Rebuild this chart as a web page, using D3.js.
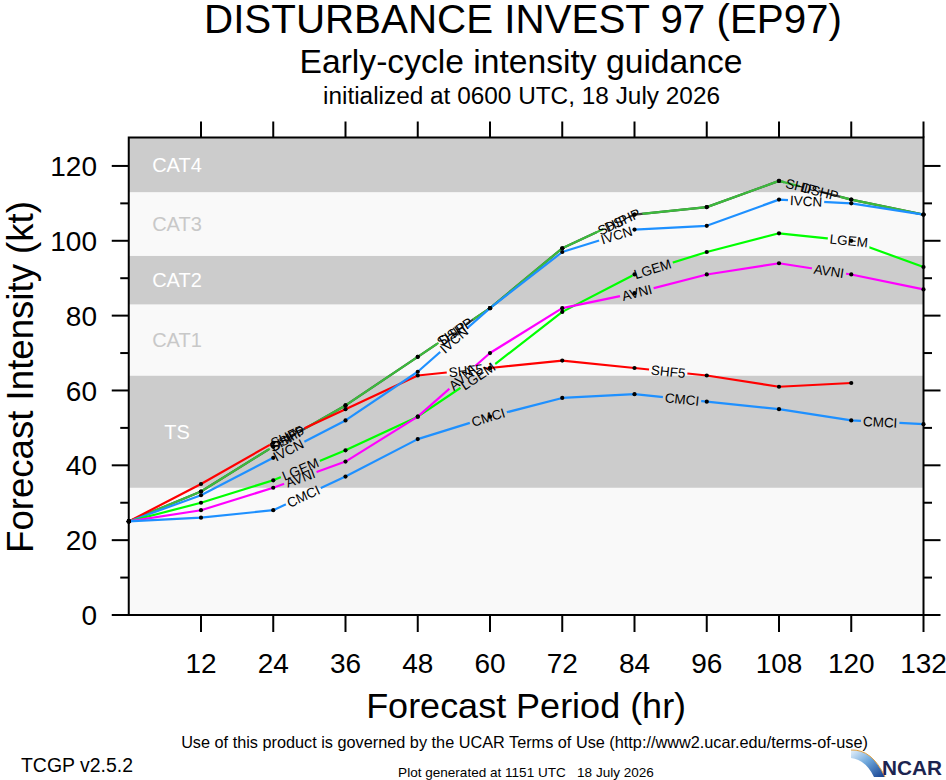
<!DOCTYPE html>
<html>
<head>
<meta charset="utf-8">
<script src="https://cdn.jsdelivr.net/npm/d3@7/dist/d3.min.js"></script>
<style>
  html, body { margin: 0; padding: 0; background: #ffffff; }
  svg { display: block; font-family: "Liberation Sans", Arial, Helvetica, sans-serif; }
</style>
</head>
<body>
<svg id="chart" width="946" height="780"></svg>
<script>
// ---------------- data ----------------
const hours = [0, 12, 24, 36, 48, 60, 72, 84, 96, 108, 120, 132];
const xTicks = [12, 24, 36, 48, 60, 72, 84, 96, 108, 120, 132];
const yTicks = [0, 20, 40, 60, 80, 100, 120];
const yMinorTicks = [10, 30, 50, 70, 90, 110];

const SHIP = [25, 33, 45, 56, 69, 82, 98, 107, 109, 116, 111, 107];
const DSHP = [25, 33, 45, 56, 69, 82, 98, 107, 109, 116, 111, 107];
const SHF5 = [25, 35, 46, 55, 64, 66, 68, 66, 64, 61, 62, null];
const IVCN = [25, 32, 42, 52, 65, 82, 97, 103, 104, 111, 110, 107];
const LGEM = [25, 30, 36, 44, 53, 66, 81, 91, 97, 102, 100, 93];
const AVNI = [25, 28, 34, 41, 53, 70, 82, 86, 91, 94, 91, 87];
const CMCI = [25, 26, 28, 37, 47, 53, 58, 59, 57, 55, 52, 51];

// hours along each line where its name is written
const labelHours = {
  SHIP: [25.8, 53.6, 80.4, 111.7],
  DSHP: [26.4, 54.3, 82.0, 114.8],
  SHF5: [26.3, 56.0, 89.6],
  IVCN: [26.5, 54.0, 81.0, 112.5],
  LGEM: [28.5, 58.0, 87.0, 119.6],
  AVNI: [28.5, 55.4, 84.4, 116.3],
  CMCI: [29.0, 59.7, 91.9, 124.8]
};

// intensity categories (kt)
const bandNames = ["", "TS", "CAT1", "CAT2", "CAT3", "CAT4"];
const bandLows  = [0, 34, 64, 83, 96, 113];
const bandHighs = [34, 64, 83, 96, 113, 127.6];

const series = [
  { name: "SHIP", values: SHIP, color: "#404040" },
  { name: "DSHP", values: DSHP, color: "#3cba3c" },
  { name: "SHF5", values: SHF5, color: "#ff0000" },
  { name: "IVCN", values: IVCN, color: "#1e90ff" },
  { name: "LGEM", values: LGEM, color: "#00ff00" },
  { name: "AVNI", values: AVNI, color: "#ff00ff" },
  { name: "CMCI", values: CMCI, color: "#1e90ff" }
];

// ---------------- layout ----------------
const svg = d3.select("#chart");
const L = 128.75, R = 923.5, T = 137.5, B = 615;
const x = d3.scaleLinear().domain([0, 132]).range([L, R]);
const y = d3.scaleLinear().domain([0, 127.6]).range([B, T]);
const midX = (L + R) / 2;

function fitText(sel, size, targetW) {
  sel.attr("font-size", size);
  const w = sel.node().getComputedTextLength();
  sel.attr("font-size", (size * targetW / w).toFixed(2));
  return sel;
}

// bands
const bandG = svg.append("g");
bandLows.forEach((lo, i) => {
  const gray = i % 2 === 1;
  bandG.append("rect")
    .attr("x", x(0)).attr("width", x(132) - x(0))
    .attr("y", y(bandHighs[i])).attr("height", y(lo) - y(bandHighs[i]))
    .attr("fill", gray ? "#cccccc" : "#f9f9f9");
  if (bandNames[i]) {
    bandG.append("text")
      .attr("x", 177)
      .attr("y", (y(lo) + y(bandHighs[i])) / 2)
      .attr("dy", "0.35em")
      .attr("text-anchor", "middle")
      .attr("font-size", 20)
      .attr("fill", gray ? "#ffffff" : "#c8c8c8")
      .text(bandNames[i]);
  }
});

// helper: point and angle along a series at a given hour
function pointAt(values, h) {
  let i = 0;
  while (i < hours.length - 2 && hours[i + 1] < h) i++;
  const x0 = x(hours[i]), y0 = y(values[i]);
  const x1 = x(hours[i + 1]), y1 = y(values[i + 1]);
  const t = (h - hours[i]) / (hours[i + 1] - hours[i]);
  return {
    px: x0 + (x1 - x0) * t,
    py: y0 + (y1 - y0) * t,
    ang: Math.atan2(y1 - y0, x1 - x0) * 180 / Math.PI
  };
}

const defs = svg.append("defs");
const lineG = svg.append("g");
const dotG = svg.append("g");
const labelG = svg.append("g");

const line = d3.line()
  .defined(d => d.v != null)
  .x(d => x(d.h))
  .y(d => y(d.v));

series.forEach((s, si) => {
  const pts = hours.map((h, i) => ({ h: h, v: s.values[i] }));
  const labs = labelHours[s.name].map(h => {
    const p = pointAt(s.values, h);
    const g = labelG.append("g")
      .attr("transform", `translate(${p.px},${p.py}) rotate(${p.ang})`);
    const t = g.append("text")
      .attr("text-anchor", "middle")
      .attr("dy", "0.36em")
      .attr("font-size", 13.5)
      .attr("fill", "#000")
      .text(s.name);
    return { p: p, w: t.node().getComputedTextLength() };
  });
  const mask = defs.append("mask")
    .attr("id", "m" + si)
    .attr("maskUnits", "userSpaceOnUse")
    .attr("x", 0).attr("y", 0).attr("width", 946).attr("height", 780);
  mask.append("rect").attr("x", 0).attr("y", 0).attr("width", 946).attr("height", 780).attr("fill", "#fff");
  labs.forEach(l => {
    mask.append("rect")
      .attr("transform", `translate(${l.p.px},${l.p.py}) rotate(${l.p.ang})`)
      .attr("x", -l.w / 2 - 2).attr("y", -7)
      .attr("width", l.w + 4).attr("height", 14)
      .attr("fill", "#000");
  });
  lineG.append("path")
    .attr("d", line(pts))
    .attr("fill", "none")
    .attr("stroke", s.color)
    .attr("stroke-width", 2.2)
    .attr("stroke-linejoin", "round")
    .attr("mask", `url(#m${si})`);
  dotG.selectAll(null)
    .data(pts.filter(d => d.v != null))
    .enter().append("circle")
    .attr("cx", d => x(d.h))
    .attr("cy", d => y(d.v))
    .attr("r", 2.1)
    .attr("fill", "#000");
});

// frame and ticks
const axG = svg.append("g").attr("stroke", "#000").attr("stroke-width", 2);
axG.append("rect")
  .attr("x", L).attr("y", T).attr("width", R - L).attr("height", B - T)
  .attr("fill", "none");
xTicks.forEach(h => {
  axG.append("line").attr("x1", x(h)).attr("x2", x(h)).attr("y1", B).attr("y2", B + 17);
  axG.append("line").attr("x1", x(h)).attr("x2", x(h)).attr("y1", T).attr("y2", T - 16);
});
yTicks.forEach(v => {
  axG.append("line").attr("x1", L).attr("x2", L - 17).attr("y1", y(v)).attr("y2", y(v));
  axG.append("line").attr("x1", R).attr("x2", R + 17).attr("y1", y(v)).attr("y2", y(v));
});
yMinorTicks.forEach(v => {
  axG.append("line").attr("x1", L).attr("x2", L - 8.5).attr("y1", y(v)).attr("y2", y(v));
  axG.append("line").attr("x1", R).attr("x2", R + 8.5).attr("y1", y(v)).attr("y2", y(v));
});

// tick labels
svg.append("g").selectAll("text").data(xTicks).enter().append("text")
  .attr("x", d => x(d)).attr("y", 673)
  .attr("text-anchor", "middle").attr("font-size", 28)
  .text(d => d);
svg.append("g").selectAll("text").data(yTicks).enter().append("text")
  .attr("x", 97).attr("y", d => y(d)).attr("dy", "0.36em")
  .attr("text-anchor", "end").attr("font-size", 28)
  .text(d => d);

// axis titles
fitText(svg.append("text")
  .attr("x", midX).attr("y", 718).attr("text-anchor", "middle")
  .text("Forecast Period (hr)"), 36, 320);
fitText(svg.append("text")
  .attr("transform", "translate(33,377) rotate(-90)")
  .attr("text-anchor", "middle")
  .text("Forecast Intensity (kt)"), 36, 352);

// titles
fitText(svg.append("text").attr("x", 523).attr("y", 33).attr("text-anchor", "middle")
  .text("DISTURBANCE INVEST 97 (EP97)"), 40, 638);
fitText(svg.append("text").attr("x", 521).attr("y", 73).attr("text-anchor", "middle")
  .text("Early-cycle intensity guidance"), 33, 443);
fitText(svg.append("text").attr("x", 521.5).attr("y", 104).attr("text-anchor", "middle")
  .text("initialized at 0600 UTC, 18 July 2026"), 24, 397);

// footer
fitText(svg.append("text").attr("x", 524.5).attr("y", 748).attr("text-anchor", "middle")
  .text("Use of this product is governed by the UCAR Terms of Use (http://www2.ucar.edu/terms-of-use)"), 15, 687);
fitText(svg.append("text").attr("x", 21).attr("y", 772)
  .text("TCGP v2.5.2"), 19, 112);
fitText(svg.append("text").attr("x", 526).attr("y", 777).attr("text-anchor", "middle")
  .attr("xml:space", "preserve").style("white-space", "pre")
  .text("Plot generated at 1151 UTC   18 July 2026"), 13, 256);

// NCAR logo
const grad = defs.append("linearGradient").attr("id", "ncarGrad")
  .attr("x1", "0").attr("y1", "0").attr("x2", "1").attr("y2", "1");
grad.append("stop").attr("offset", "0").attr("stop-color", "#e8f2fb");
grad.append("stop").attr("offset", "0.45").attr("stop-color", "#6fa8dc");
grad.append("stop").attr("offset", "1").attr("stop-color", "#123c8c");
const logo = svg.append("g");
logo.append("path")
  .attr("d", "M851,750 Q872,749 885,777 L874,777 Q866,760 851,758 Z")
  .attr("fill", "url(#ncarGrad)");
logo.append("path")
  .attr("d", "M851,750 Q872,749 885,777")
  .attr("fill", "none").attr("stroke", "#e0a040").attr("stroke-width", 1);
fitText(logo.append("text").attr("x", 882).attr("y", 775)
  .attr("font-weight", "bold").attr("fill", "#1c2450")
  .text("NCAR"), 23, 60);
</script>
</body>
</html>
